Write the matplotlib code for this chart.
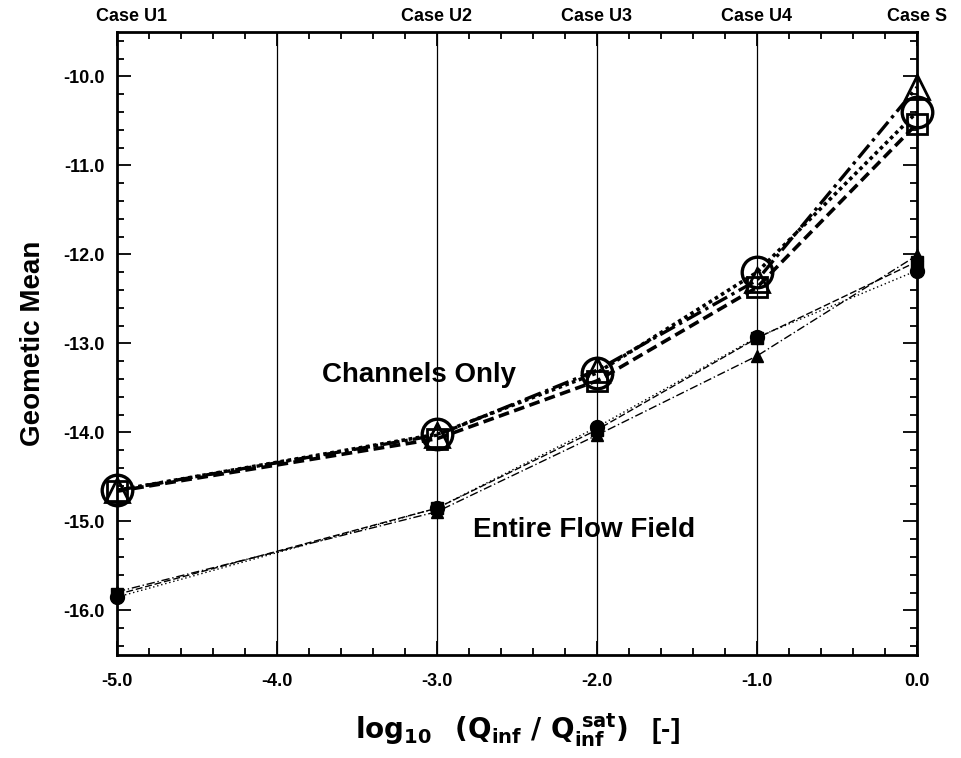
import matplotlib.pyplot as plt
from matplotlib.ticker import MultipleLocator

plt.rcParams['font.family'] = ['Liberation Sans', 'DejaVu Sans']
plt.rcParams['font.weight'] = 'bold'

x = [-5.0, -3.0, -2.0, -1.0, 0.0]

# channels only (open markers)
ch_circle = [-14.65, -14.02, -13.33, -12.20, -10.40]
ch_triangle = [-14.65, -14.03, -13.30, -12.29, -10.12]
ch_square = [-14.66, -14.07, -13.42, -12.37, -10.53]

# entire flow field (filled markers)
ff_circle = [-15.85, -14.85, -13.94, -12.93, -12.18]
ff_triangle = [-15.79, -14.89, -14.03, -13.14, -12.01]
ff_square = [-15.82, -14.85, -13.97, -12.94, -12.08]

case_x = [-4.91, -3.0, -2.0, -1.0, 0.0]
case_labels = ['Case U1', 'Case U2', 'Case U3', 'Case U4', 'Case S']


def main():
    fig = plt.figure(figsize=(9.62, 7.58), dpi=100)
    ax = fig.add_axes([0.1216, 0.1359, 0.8316, 0.8219])

    for gx in [-4.0, -3.0, -2.0, -1.0]:
        ax.axvline(gx, color='black', linewidth=0.9, zorder=1)

    # upper group, thick lines
    ax.plot(x, ch_circle, color='black', linestyle=(0, (1, 1)), linewidth=2.6,
            marker='o', markersize=22, mfc='none', mec='black', mew=2.4,
            zorder=5, clip_on=False)
    ax.plot(x, ch_triangle, color='black', linestyle=(0, (5, 1.5, 1, 1.5)), linewidth=2.4,
            marker='^', markersize=17, mfc='none', mec='black', mew=2.0,
            zorder=5, clip_on=False)
    ax.plot(x, ch_square, color='black', linestyle=(0, (3, 1.5)), linewidth=2.6,
            marker='s', markersize=14, mfc='none', mec='black', mew=2.0,
            zorder=5, clip_on=False)

    # lower group, thin lines
    ax.plot(x, ff_circle, color='black', linestyle=(0, (1, 2)), linewidth=1.0,
            marker='o', markersize=10, mfc='black', mec='black',
            zorder=5, clip_on=False)
    ax.plot(x, ff_triangle, color='black', linestyle=(0, (6, 2, 1, 2)), linewidth=1.0,
            marker='^', markersize=9, mfc='black', mec='black',
            zorder=5, clip_on=False)
    ax.plot(x, ff_square, color='black', linestyle=(0, (5, 2)), linewidth=1.0,
            marker='s', markersize=8, mfc='black', mec='black',
            zorder=5, clip_on=False)

    ax.set_xlim(-5.0, 0.0)
    ax.set_ylim(-16.5, -9.5)
    ax.xaxis.set_minor_locator(MultipleLocator(0.2))
    ax.yaxis.set_minor_locator(MultipleLocator(0.2))
    ax.set_xticks([-5.0, -4.0, -3.0, -2.0, -1.0, 0.0])
    ax.set_xticklabels(['-5.0', '-4.0', '-3.0', '-2.0', '-1.0', '0.0'])
    ax.set_yticks([-16.0, -15.0, -14.0, -13.0, -12.0, -11.0, -10.0])
    ax.set_yticklabels(['-16.0', '-15.0', '-14.0', '-13.0', '-12.0', '-11.0', '-10.0'])
    ax.tick_params(which='both', direction='in', top=True, right=True,
                   labelsize=13, width=1.3)
    ax.tick_params(which='major', length=10, pad=9)
    ax.tick_params(which='minor', length=5)
    ax.tick_params(axis='x', which='major', pad=13)
    for s in ax.spines.values():
        s.set_linewidth(2.0)

    for cx, cl in zip(case_x, case_labels):
        ax.text(cx, -9.42, cl, ha='center', va='bottom', fontsize=13, fontweight='bold')

    ax.text(-3.11, -13.35, 'Channels Only', ha='center', va='center',
            fontsize=20, fontweight='bold', zorder=4)
    ax.text(-2.08, -15.10, 'Entire Flow Field', ha='center', va='center',
            fontsize=20, fontweight='bold', zorder=4)

    ax.set_ylabel('Geometic Mean', fontsize=20, fontweight='bold', labelpad=12)
    ax.set_xlabel(r'$\mathbf{log_{10}}$   $\mathbf{(Q_{inf}\ /\ Q_{inf}^{\ sat})}$   [-]',
                  fontsize=20, fontweight='bold', labelpad=16)

    fig.savefig('out.png', dpi=100)


if __name__ == "__main__":
    main()
